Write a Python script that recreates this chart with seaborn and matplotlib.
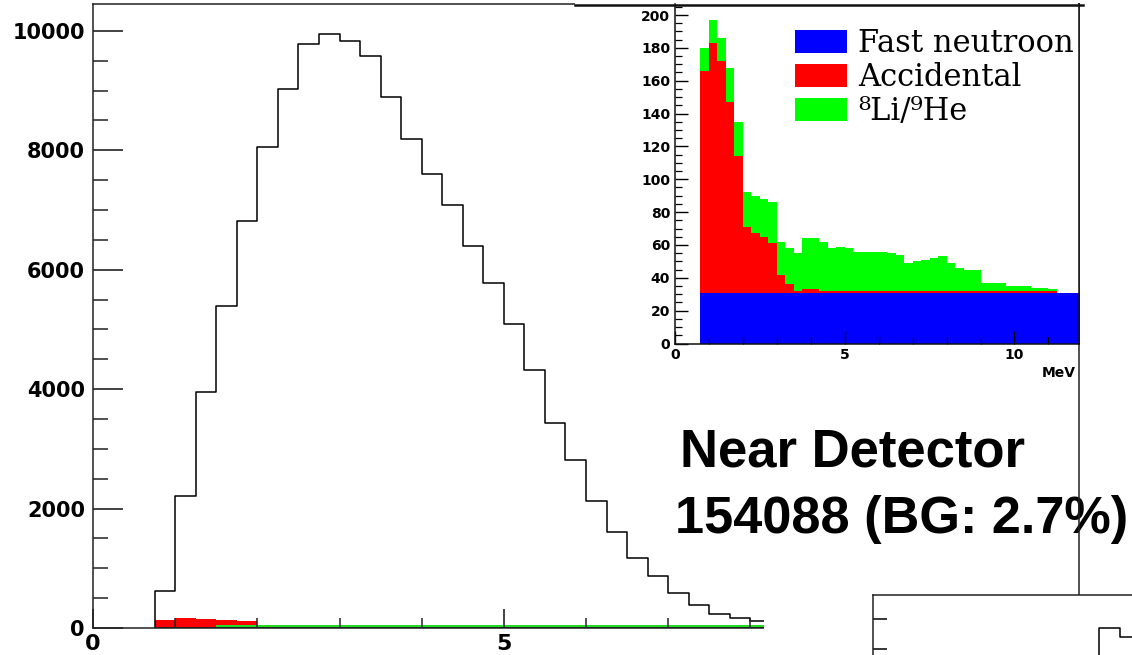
import numpy as np
import pandas as pd
import matplotlib
matplotlib.use("Agg")
import matplotlib.pyplot as plt
from matplotlib.patches import Patch, Rectangle
from matplotlib.lines import Line2D
from matplotlib.ticker import MultipleLocator
import seaborn as sns

plt.rcParams["font.family"] = ["DejaVu Sans"]
plt.rcParams["font.weight"] = "bold"

# ---- data (0.25 MeV bins) ----
bin_width = 0.25

# near detector candidates, first bin starts at 0.75 MeV (tail hidden on the slide)
main_first_edge = 0.75
main_counts = [624, 2214, 3960, 5394, 6816, 8055, 9021, 9774, 9951, 9834,
               9583, 8897, 8189, 7598, 7090, 6393, 5784, 5098, 4323, 3441,
               2817, 2119, 1607, 1165, 864, 586, 378, 239, 167, 122]
# background drawn at the foot of the main histogram
main_acc_first_edge = 0.75
main_acc = [127, 163, 158, 140, 114]
main_lihe_first_edge = 1.5
main_lihe = [52, 54, 55, 52, 50, 48, 50, 52, 50, 48, 47, 48, 50, 48,
             47, 46, 48, 47, 46, 47, 46, 45, 47, 46, 45, 46, 45]

# inset: stacked backgrounds, 0.75 - 12 MeV
bg_first_edge = 0.75
fast_neutron = [31, 31, 31, 31, 31, 31, 31, 31, 31, 31, 31, 31, 31, 31, 31,
                31, 31, 31, 31, 31, 31, 31, 31, 31, 31, 31, 31, 31, 31, 31,
                31, 31, 31, 31, 31, 31, 31, 31, 31, 31, 31, 31, 31, 31, 31]
accidental = [135, 152, 141, 116, 83, 40, 36, 34, 30, 11, 5, 1, 2, 2, 1,
              1, 1, 1, 1, 1, 1, 1, 1, 1, 1, 1, 1, 1, 1, 1,
              1, 1, 1, 1, 1, 1, 1, 1, 1, 1, 1, 1, 0, 0, 0]
li_he = [14, 14, 14, 21, 21, 21, 23, 23, 25, 20, 22, 23, 31, 31, 30,
         26, 27, 26, 24, 24, 24, 24, 23, 22, 17, 18, 19, 20, 21, 17,
         14, 13, 13, 5, 5, 5, 3, 3, 3, 2, 2, 1, 0, 0, 0]
bg_labels = ["Fast neutroon", "Accidental", "⁸Li/⁹He"]
bg_colors = ["#0000ff", "#ff0000", "#00ff00"]

# corner of the next panel on the slide
panel_first_edge = 2.5
panel_counts = [7600, 8350, 8200]


def edges_for(first, n):
    return list(first + bin_width * np.arange(n + 1))


def centers_for(first, n):
    e = np.array(edges_for(first, n))
    return e[:-1] + bin_width / 2


W, H = 1132, 655
fig = plt.figure(figsize=(W / 100, H / 100), dpi=100)


def fx(px):
    return px / W


def fy(py):
    return 1 - py / H


# ---- main histogram ----
ax = fig.add_axes([fx(93), fy(628), fx(1079) - fx(93), fy(4) - fy(628)])
ax.set_zorder(0)

sns.histplot(x=centers_for(main_acc_first_edge, len(main_acc)), weights=main_acc,
             bins=edges_for(main_acc_first_edge, len(main_acc)), element="step",
             fill=True, color="#ff0000", alpha=1, linewidth=0, ax=ax)
sns.histplot(x=centers_for(main_lihe_first_edge, len(main_lihe)), weights=main_lihe,
             bins=edges_for(main_lihe_first_edge, len(main_lihe)), element="step",
             fill=True, color="#22dd22", alpha=1, linewidth=0, ax=ax)
sns.histplot(x=centers_for(main_first_edge, len(main_counts)), weights=main_counts,
             bins=edges_for(main_first_edge, len(main_counts)), element="step",
             fill=True, color="black", facecolor="none", edgecolor="black",
             linewidth=1.1, ax=ax)

ax.set_xlim(0, 12)
ax.set_ylim(0, 10449)
ax.set_xlabel("")
ax.set_ylabel("")
ax.xaxis.set_major_locator(MultipleLocator(5))
ax.xaxis.set_minor_locator(MultipleLocator(1))
ax.yaxis.set_major_locator(MultipleLocator(2000))
ax.yaxis.set_minor_locator(MultipleLocator(500))
ax.tick_params(axis="y", which="major", direction="in", length=21.6, width=1.2,
               pad=5.8, labelsize=15, color="#222222")
ax.tick_params(axis="y", which="minor", direction="in", length=10.8, width=1.1,
               color="#222222")
ax.tick_params(axis="x", which="major", direction="in", length=13.7, width=1.2,
               pad=4.5, labelsize=16, color="#222222")
ax.tick_params(axis="x", which="minor", direction="in", length=7.2, width=1.1,
               color="#222222")
for s in ax.spines.values():
    s.set_linewidth(1.1)
    s.set_color("#222222")

ax.text(fx(680), fy(466.7), "Near Detector", transform=fig.transFigure,
        fontsize=38, fontweight="bold", family=["Liberation Sans", "DejaVu Sans"],
        va="baseline", ha="left", zorder=2)
ax.text(fx(675), fy(533.3), "154088 (BG: 2.7%)", transform=fig.transFigure,
        fontsize=37.6, fontweight="bold", family=["Liberation Sans", "DejaVu Sans"],
        va="baseline", ha="left", zorder=2)

# white pad behind the inset and cover of the lower right corner
fig.add_artist(Rectangle((fx(575), fy(382)), fx(1077.5) - fx(575), fy(1) - fy(382),
                         transform=fig.transFigure, facecolor="white",
                         edgecolor="none", zorder=2))
fig.add_artist(Rectangle((fx(764), fy(H + 5)), fx(W + 5) - fx(764), fy(596) - fy(H + 5),
                         transform=fig.transFigure, facecolor="white",
                         edgecolor="none", zorder=2))

# ---- inset: background spectra ----
ax_in = fig.add_axes([fx(675), fy(343.5), fx(1079) - fx(675), fy(4) - fy(343.5)])
ax_in.set_zorder(3)
n_bg = len(fast_neutron)
bg_centers = centers_for(bg_first_edge, n_bg)
bg = pd.DataFrame({
    "energy": np.concatenate([bg_centers] * 3),
    "counts": np.concatenate([fast_neutron, accidental, li_he]),
    "source": np.repeat(bg_labels, n_bg),
})
sns.histplot(data=bg, x="energy", weights="counts", hue="source",
             hue_order=bg_labels[::-1], palette=dict(zip(bg_labels, bg_colors)),
             multiple="stack", bins=edges_for(bg_first_edge, n_bg), element="step",
             fill=True, alpha=1, linewidth=0, legend=False, ax=ax_in)
ax_in.set_xlim(0, 11.9)
ax_in.set_ylim(0, 206.7)
ax_in.set_xlabel("")
ax_in.set_ylabel("")
ax_in.xaxis.set_major_locator(MultipleLocator(5))
ax_in.xaxis.set_minor_locator(MultipleLocator(1))
ax_in.yaxis.set_major_locator(MultipleLocator(20))
ax_in.yaxis.set_minor_locator(MultipleLocator(5))
ax_in.tick_params(axis="both", which="major", direction="in", length=9.4, width=1.0,
                  labelsize=10, pad=3.5)
ax_in.tick_params(axis="both", which="minor", direction="in", length=5, width=0.9)
ax_in.spines["top"].set_visible(False)
for s in ["left", "bottom", "right"]:
    ax_in.spines[s].set_linewidth(1.1)
    ax_in.spines[s].set_color("#111111")

handles = [Patch(facecolor=c, edgecolor="none", label=l) for c, l in zip(bg_colors, bg_labels)]
ax_in.legend(handles=handles, loc="upper left", bbox_to_anchor=(fx(795), fy(28)),
             bbox_transform=fig.transFigure, frameon=False,
             prop={"family": "DejaVu Serif", "size": 22, "weight": "normal"},
             handlelength=1.7, handleheight=0.8, handletextpad=0.36,
             labelspacing=0.1, borderpad=0, borderaxespad=0)

fig.text(fx(1076), fy(376.7), "MeV", ha="right", va="baseline", fontsize=10,
         fontweight="bold", zorder=5)
fig.add_artist(Line2D([fx(575), fx(1083)], [fy(4.5), fy(4.5)], transform=fig.transFigure,
                      color="#111111", linewidth=1.8, zorder=5))

# ---- corner of the neighbouring panel ----
ax_p = fig.add_axes([fx(873), fy(H + 100), 987 / W, 160 / H])
ax_p.set_zorder(4)
ax_p.set_facecolor("white")
sns.histplot(x=centers_for(panel_first_edge, len(panel_counts)), weights=panel_counts,
             bins=edges_for(panel_first_edge, len(panel_counts)), element="step",
             fill=False, color="black", linewidth=1.1, ax=ax_p)
ax_p.set_xlim(0, 12)
ax_p.set_ylim(8900 - 2678, 8900)
ax_p.set_xlabel("")
ax_p.set_ylabel("")
ax_p.set_xticks([])
ax_p.set_yticks([8000, 8500])
ax_p.set_yticklabels([])
ax_p.tick_params(axis="y", direction="in", length=10, width=1.1)
for s in ax_p.spines.values():
    s.set_linewidth(1.1)
    s.set_color("#222222")

fig.savefig("out.png", dpi=100)
